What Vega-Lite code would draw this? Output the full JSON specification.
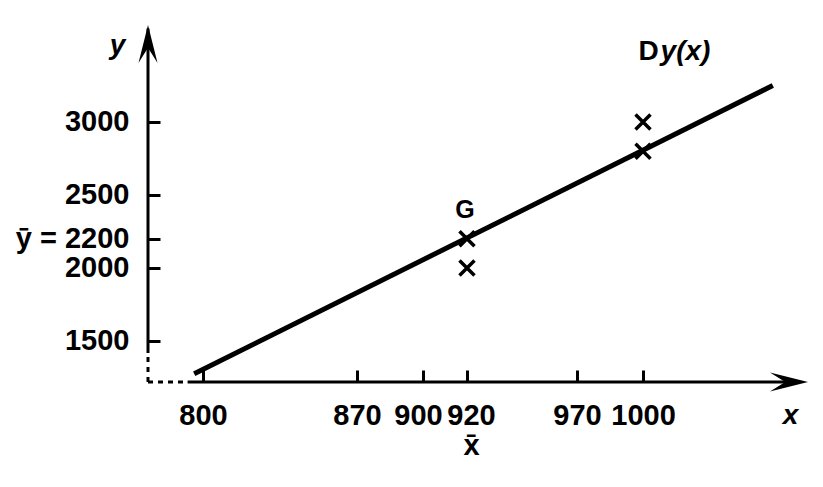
{
  "$schema": "https://vega.github.io/schema/vega-lite/v6.json",
  "width": 660,
  "height": 357,
  "autosize": "none",
  "padding": {"left": 148, "top": 25, "right": 15, "bottom": 105},
  "background": "white",
  "config": {
    "view": {"stroke": null},
    "axis": {
      "domain": false,
      "grid": false,
      "tickColor": "black",
      "tickWidth": 3,
      "tickSize": -12,
      "labelFont": "Liberation Sans",
      "labelFontWeight": "bold",
      "labelFontSize": 29,
      "labelColor": "black",
      "labelOverlap": false,
      "labelFlush": false,
      "labelBound": false,
      "titleFont": "Liberation Sans",
      "titleFontSize": 28,
      "titleFontStyle": "italic",
      "titleFontWeight": "bold",
      "titleColor": "black",
      "titleAngle": 0,
      "titleAlign": "center",
      "titleBaseline": "middle"
    }
  },
  "datasets": {
    "axes": [
      {"part": "solid", "x": 775, "x2": 775, "y": 1417, "y2": 3640},
      {"part": "solid", "x": 793, "x2": 1065, "y": 1219, "y2": 1219},
      {"part": "dotted", "x": 775, "x2": 775, "y": 1219, "y2": 1417},
      {"part": "dotted", "x": 775, "x2": 793, "y": 1219, "y2": 1219}
    ],
    "arrows": [
      {"dir": "up", "x": 775, "y": 3664},
      {"dir": "right", "x": 1075, "y": 1219}
    ],
    "fit": [
      {"x": 796, "y": 1275},
      {"x": 1059, "y": 3250}
    ],
    "obs": [
      {"x": 920, "y": 2200},
      {"x": 920, "y": 2000},
      {"x": 1000, "y": 3000},
      {"x": 1000, "y": 2800}
    ],
    "notes": [
      {"note": "G", "x": 920, "y": 2200},
      {"note": "D", "x": 998, "y": 3424},
      {"note": "y(x)", "x": 1008, "y": 3424}
    ]
  },
  "layer": [
    {
      "data": {"name": "axes"},
      "transform": [{"filter": "datum.part == 'solid'"}],
      "mark": {"type": "rule", "strokeWidth": 3, "color": "black"},
      "encoding": {
        "x": {
          "field": "x", "type": "quantitative",
          "scale": {"domain": [775, 1075], "nice": false, "zero": false},
          "axis": {
            "values": [800, 870, 900, 920, 970, 1000],
            "format": "d",
            "labelExpr": "datum.value == 920 ? ['920', 'x̄'] : datum.label",
            "labelLineHeight": 30,
            "labelBaseline": "top",
            "labelPadding": 31,
            "labelOffset": {"condition": [{"test": "datum.value == 920", "value": 4}, {"test": "datum.value == 900", "value": -5}], "value": 0},
            "title": "x",
            "titleX": 642,
            "titleY": 33
          }
        },
        "x2": {"field": "x2"},
        "y": {
          "field": "y", "type": "quantitative",
          "scale": {"domain": [1219, 3664], "nice": false, "zero": false},
          "axis": {
            "values": [1500, 2000, 2200, 2500, 3000],
            "format": "d",
            "labelExpr": "datum.value == 2200 ? 'ȳ = 2200' : datum.label",
            "labelPadding": 31,
            "title": "y",
            "titleX": -31,
            "titleY": 20
          }
        },
        "y2": {"field": "y2"}
      }
    },
    {
      "data": {"name": "axes"},
      "transform": [{"filter": "datum.part == 'dotted'"}],
      "mark": {"type": "rule", "strokeWidth": 3, "color": "black", "strokeDash": [5, 5]},
      "encoding": {
        "x": {"field": "x", "type": "quantitative"},
        "x2": {"field": "x2"},
        "y": {"field": "y", "type": "quantitative"},
        "y2": {"field": "y2"}
      }
    },
    {
      "data": {"name": "arrows"},
      "transform": [{"filter": "datum.dir == 'right'"}],
      "mark": {"type": "point", "shape": "M0,0L-2,-0.5L-1.2,0L-2,0.5Z", "size": 1444, "filled": true, "color": "black", "opacity": 1},
      "encoding": {
        "x": {"field": "x", "type": "quantitative"},
        "y": {"field": "y", "type": "quantitative"}
      }
    },
    {
      "data": {"name": "arrows"},
      "transform": [{"filter": "datum.dir == 'up'"}],
      "mark": {"type": "point", "shape": "M0,0L-2,-0.5L-1.2,0L-2,0.5Z", "size": 1444, "filled": true, "color": "black", "opacity": 1, "angle": -90},
      "encoding": {
        "x": {"field": "x", "type": "quantitative"},
        "y": {"field": "y", "type": "quantitative"}
      }
    },
    {
      "data": {"name": "fit"},
      "mark": {"type": "line", "strokeWidth": 5, "color": "black"},
      "encoding": {
        "x": {"field": "x", "type": "quantitative"},
        "y": {"field": "y", "type": "quantitative"}
      }
    },
    {
      "data": {"name": "obs"},
      "mark": {"type": "point", "shape": "M-1,-1L1,1M-1,1L1,-1", "size": 225, "filled": false, "stroke": "black", "strokeWidth": 3.5, "opacity": 1},
      "encoding": {
        "x": {"field": "x", "type": "quantitative"},
        "y": {"field": "y", "type": "quantitative"}
      }
    },
    {
      "data": {"name": "notes"},
      "transform": [{"filter": "datum.note == 'G'"}],
      "mark": {"type": "text", "font": "Liberation Sans", "fontWeight": "bold", "fontSize": 25, "color": "black", "align": "center", "baseline": "alphabetic", "dy": -21, "dx": -2},
      "encoding": {
        "x": {"field": "x", "type": "quantitative"},
        "y": {"field": "y", "type": "quantitative"},
        "text": {"field": "note"}
      }
    },
    {
      "data": {"name": "notes"},
      "transform": [{"filter": "datum.note == 'D'"}],
      "mark": {"type": "text", "font": "Liberation Sans", "fontWeight": "bold", "fontSize": 28, "color": "black", "align": "left", "baseline": "alphabetic"},
      "encoding": {
        "x": {"field": "x", "type": "quantitative"},
        "y": {"field": "y", "type": "quantitative"},
        "text": {"field": "note"}
      }
    },
    {
      "data": {"name": "notes"},
      "transform": [{"filter": "datum.note == 'y(x)'"}],
      "mark": {"type": "text", "font": "Liberation Sans", "fontWeight": "bold", "fontSize": 28, "fontStyle": "italic", "color": "black", "align": "left", "baseline": "alphabetic"},
      "encoding": {
        "x": {"field": "x", "type": "quantitative"},
        "y": {"field": "y", "type": "quantitative"},
        "text": {"field": "note"}
      }
    }
  ]
}
